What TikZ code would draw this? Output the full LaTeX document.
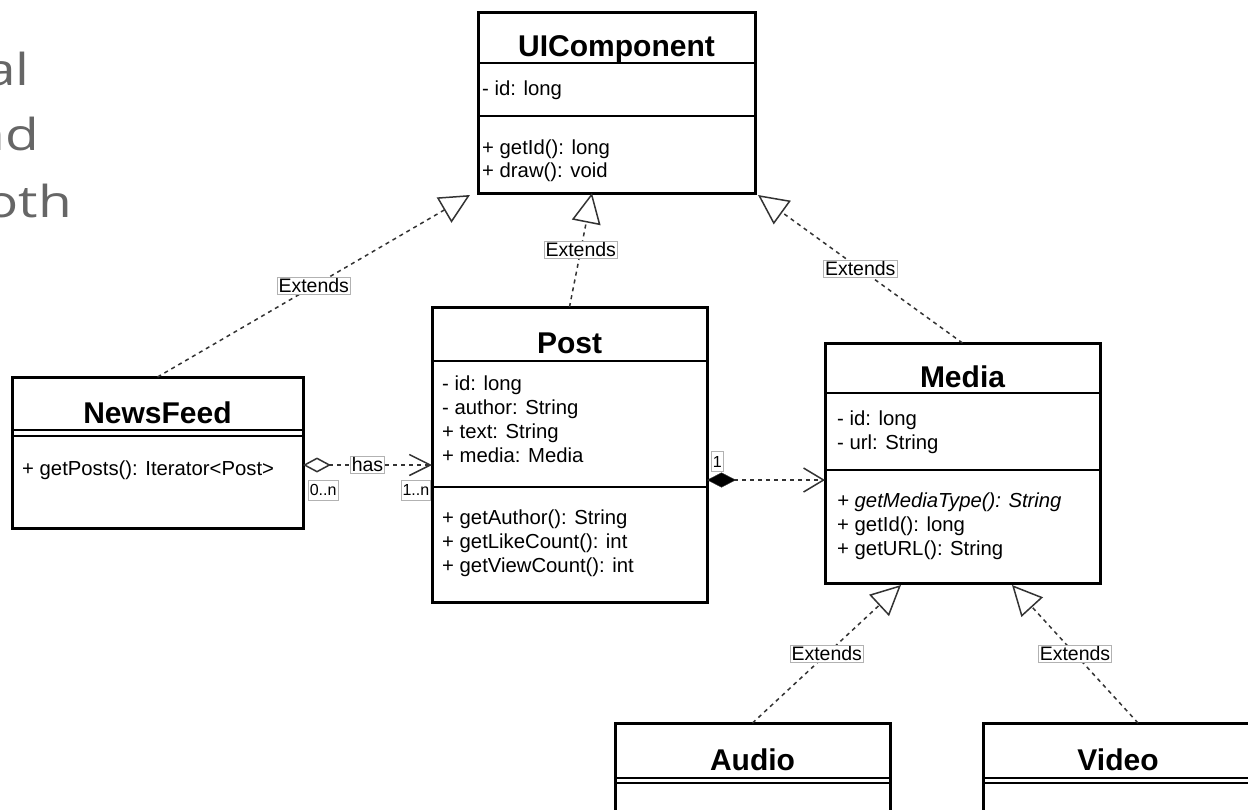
\documentclass[tikz,border=0pt]{standalone}
\usepackage{fontspec}
\setmainfont{Liberation Sans}
\newfontfamily\graysans[FakeStretch=1.25]{Open Sans}
\usetikzlibrary{arrows.meta,calc}
\tikzset{
  cls/.style={draw=black, line width=3pt, rectangle, inner sep=0pt, outer sep=0pt, anchor=north west},
  hline/.style={line width=2.5pt},
  sline/.style={line width=1.3pt},
  ttl/.style={font=\fontsize{30}{36}\selectfont\bfseries, anchor=base, inner sep=0pt},
  mem/.style={font=\fontsize{20.3}{24}\selectfont, anchor=base west, inner sep=0pt},
  conn/.style={draw=black!80, line width=1.5pt, dash pattern=on 4pt off 4pt},
  ext/.style={conn, -{Triangle[open, length=30pt, width=29pt, line width=1.5pt]}},
  lbl/.style={draw=black!30, solid, line width=0.6pt, fill=white, inner sep=1.5pt, font=\fontsize{19.5}{22}\selectfont},
  mult/.style={draw=black!30, solid, line width=0.6pt, fill=white, inner sep=1.5pt, minimum height=20pt, font=\fontsize{16}{18}\selectfont},
  gtxt/.style={font=\graysans\fontsize{44}{52}\selectfont, text=black!60, anchor=base east, inner sep=0pt},
}
\begin{document}
\begin{tikzpicture}[x=1pt,y=-1pt]
\useasboundingbox (0,0) rectangle (1248,809);
\fill[white] (0,0) rectangle (1248,809);

% partial paragraph text at the left edge (cut by the page edge, as in the reference)
\node[gtxt] (g1) at (30,85) {al};
\node[gtxt] (g2) at (39,150) {nd};
\node[gtxt] (g3) at (72,217) {oth};

% UIComponent
\node[cls, minimum width=277pt, minimum height=181pt] (uic) at (478,12) {};
\node[ttl] (uict) at (616.5,56.5) {UIComponent};
\draw[hline] (uic.west |- 0,63) -- (uic.east |- 0,63);
\draw[sline] (uic.west |- 0,116) -- (uic.east |- 0,116);
\node[mem] (uica1) at (482,95) {- id: long};
\node[mem] (uicm1) at (482,154) {+ getId(): long};
\node[mem] (uicm2) at (482,177) {+ draw(): void};

% NewsFeed
\node[cls, minimum width=291pt, minimum height=151pt] (nf) at (12,377) {};
\node[ttl] (nft) at (157.5,423) {NewsFeed};
\draw[hline] (nf.west |- 0,430) -- (nf.east |- 0,430);
\draw[sline] (nf.west |- 0,436) -- (nf.east |- 0,436);
\node[mem] (nfm1) at (22,475) {+ getPosts(): Iterator<Post>};

% Post
\node[cls, minimum width=275pt, minimum height=295pt] (post) at (432,307) {};
\node[ttl] (postt) at (569.5,353.5) {Post};
\draw[hline] (post.west |- 0,361) -- (post.east |- 0,361);
\draw[sline] (post.west |- 0,487) -- (post.east |- 0,487);
\node[mem] (posta1) at (442,390) {- id: long};
\node[mem] (posta2) at (442,414) {- author: String};
\node[mem] (posta3) at (442,438) {+ text: String};
\node[mem] (posta4) at (442,462) {+ media: Media};
\node[mem] (postm1) at (442,524) {+ getAuthor(): String};
\node[mem] (postm2) at (442,548) {+ getLikeCount(): int};
\node[mem] (postm3) at (442,572) {+ getViewCount(): int};

% Media
\node[cls, minimum width=275pt, minimum height=240pt] (media) at (825,343) {};
\node[ttl] (mediat) at (962.5,387) {Media};
\draw[hline] (media.west |- 0,393) -- (media.east |- 0,393);
\draw[sline] (media.west |- 0,470) -- (media.east |- 0,470);
\node[mem] (mediaa1) at (837,425) {- id: long};
\node[mem] (mediaa2) at (837,449) {- url: String};
\node[mem] (mediam1) at (837,507) {\itshape + getMediaType(): String};
\node[mem] (mediam2) at (837,531) {+ getId(): long};
\node[mem] (mediam3) at (837,555) {+ getURL(): String};

% Audio
\node[cls, minimum width=275pt, minimum height=110pt] (audio) at (615,723) {};
\node[ttl] (audiot) at (752.5,770) {Audio};
\draw[hline] (audio.west |- 0,778) -- (audio.east |- 0,778);
\draw[sline] (audio.west |- 0,783) -- (audio.east |- 0,783);

% Video
\node[cls, minimum width=270pt, minimum height=110pt] (video) at (983,723) {};
\node[ttl] (videot) at (1118,770) {Video};
\draw[hline] (video.west |- 0,778) -- (video.east |- 0,778);
\draw[sline] (video.west |- 0,783) -- (video.east |- 0,783);

% Generalisations
\draw[ext] (nf.north) -- node[lbl] (l1) {Extends} ([xshift=-8pt,yshift=-2pt]uic.south west);
\draw[ext] (post.north) -- node[lbl] (l2) {Extends} ([xshift=-24.5pt]uic.south);
\draw[ext] (media.north) -- node[lbl] (l3) {Extends} ([xshift=3pt,yshift=-2pt]uic.south east);
\draw[ext] (audio.north) -- node[lbl] (l4) {Extends} ([xshift=-61.5pt,yshift=-2pt]media.south);
\draw[ext] ([xshift=20pt]video.north) -- node[lbl] (l5) {Extends} ([xshift=49.5pt,yshift=-2pt]media.south);

% Aggregation NewsFeed -> Post
\draw[conn, {Diamond[open, length=28pt, width=15pt, line width=1.5pt]}-{Straight Barb[length=21pt, width=21pt, line width=1.5pt]}]
  ([yshift=-12.5pt]nf.east) -- node[lbl] (lh) {has} ([yshift=-10.5pt]post.west)
  node[mult, pos=0, anchor=north west, xshift=5pt, yshift=-15pt] (m0) {0..n}
  node[mult, pos=1, anchor=north east, xshift=-1pt, yshift=-15pt] (m1) {1..n};

% Composition Post -> Media
\draw[conn, {Diamond[length=29pt, width=15pt, fill=black, line width=0.5pt]}-{Straight Barb[length=20pt, width=24pt, line width=1.5pt]}]
  ([yshift=-25.5pt]post.east) -- ([yshift=-17pt]media.west)
  node[mult, pos=0, anchor=south west, xshift=4pt, yshift=8pt] (mc) {1};
\end{tikzpicture}
\end{document}
